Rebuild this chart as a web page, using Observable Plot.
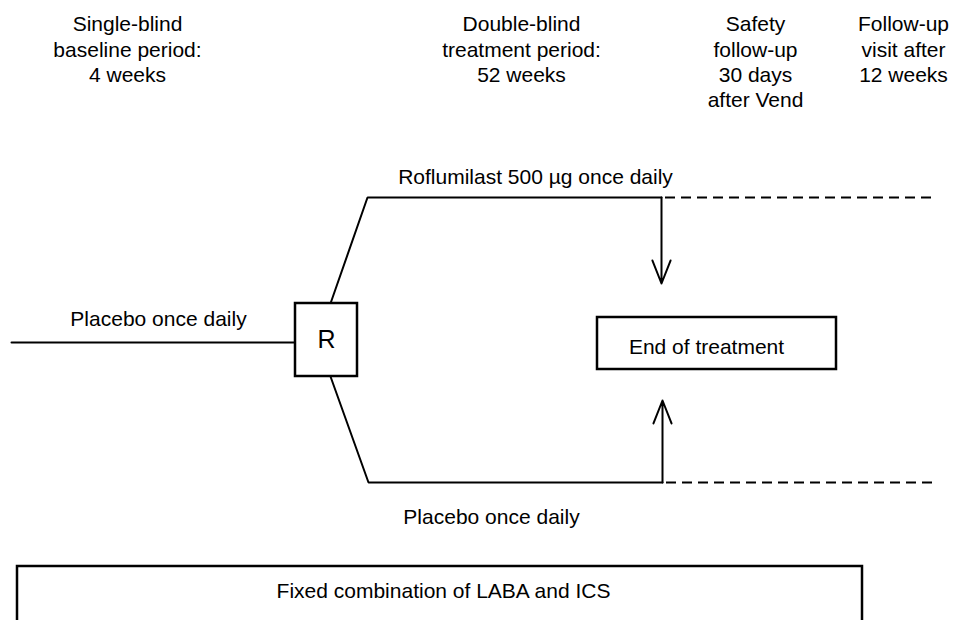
<!DOCTYPE html>
<html>
<head>
<meta charset="utf-8">
<script src="https://cdn.jsdelivr.net/npm/d3@7"></script>
<script src="https://cdn.jsdelivr.net/npm/@observablehq/plot@0.6"></script>
<style>
  html, body { margin: 0; padding: 0; background: #fff; }
  #chart svg { display: block; }
</style>
</head>
<body>
<div id="chart"></div>
<script>
// ---- Diagram data (diagram units = page pixels) ----
const headerTexts = [
  {x: 127, y: 13, text: "Single-blind\nbaseline period:\n4 weeks"},
  {x: 521, y: 13, text: "Double-blind\ntreatment period:\n52 weeks"},
  {x: 755, y: 13, text: "Safety\nfollow-up\n30 days\nafter Vend"},
  {x: 903, y: 13, text: "Follow-up\nvisit after\n12 weeks"}
];

const runInLine = [{x: 11, y: 342}, {x: 295, y: 342}];
const roflumilastArm = [{x: 330, y: 303}, {x: 367, y: 197}, {x: 661, y: 197}];
const placeboArm = [{x: 330, y: 376}, {x: 368, y: 482}, {x: 662, y: 482}];

const followUpDashes = [
  {x1: 665, x2: 937, y: 197},
  {x1: 666, x2: 938, y: 482}
];

const endArrows = [
  {x: 661, y1: 197, y2: 283},
  {x: 662, y1: 482, y2: 400}
];

const boxes = [
  {x1: 295, x2: 357, y1: 303, y2: 376},   // R
  {x1: 597, x2: 836, y1: 317, y2: 369},   // End of treatment
  {x1: 17,  x2: 862, y1: 566, y2: 640}    // Fixed combination
];

const armLabels = [
  {x: 535, y: 177, text: "Roflumilast 500 \u00b5g once daily"},
  {x: 158, y: 319, text: "Placebo once daily"},
  {x: 491, y: 517, text: "Placebo once daily"},
  {x: 706, y: 347, text: "End of treatment"},
  {x: 443, y: 591, text: "Fixed combination of LABA and ICS"}
];

const randomLabel = [{x: 326, y: 339, text: "R"}];

const font = "'Liberation Sans', Arial, Helvetica, sans-serif";

const chart = Plot.plot({
  width: 955,
  height: 620,
  margin: 0,
  style: {background: "#fff", fontFamily: font, color: "#000"},
  x: {domain: [0, 955], range: [0, 955], axis: null},
  y: {domain: [0, 620], range: [0, 620], axis: null},
  marks: [
    Plot.line(runInLine, {x: "x", y: "y", stroke: "#000", strokeWidth: 2}),
    Plot.line(roflumilastArm, {x: "x", y: "y", stroke: "#000", strokeWidth: 2, strokeLinejoin: "miter"}),
    Plot.line(placeboArm, {x: "x", y: "y", stroke: "#000", strokeWidth: 2, strokeLinejoin: "miter"}),
    Plot.ruleY(followUpDashes, {x1: "x1", x2: "x2", y: "y", stroke: "#000", strokeWidth: 2, strokeDasharray: "10,6"}),
    Plot.arrow(endArrows, {x1: "x", x2: "x", y1: "y1", y2: "y2", stroke: "#000", strokeWidth: 2, headLength: 18.5, headAngle: 43}),
    Plot.rect(boxes, {x1: "x1", x2: "x2", y1: "y1", y2: "y2", fill: "#fff", stroke: "#000", strokeWidth: 2.5, clip: true}),
    Plot.text(headerTexts, {x: "x", y: "y", text: "text", fontSize: 21, lineAnchor: "top", lineHeight: 1.2, textAnchor: "middle", fill: "#000"}),
    Plot.text(armLabels, {x: "x", y: "y", text: "text", fontSize: 21, textAnchor: "middle", fill: "#000"}),
    Plot.text(randomLabel, {x: "x", y: "y", text: "text", fontSize: 25, textAnchor: "middle", fill: "#000"})
  ]
});

document.getElementById("chart").appendChild(chart);
</script>
</body>
</html>
